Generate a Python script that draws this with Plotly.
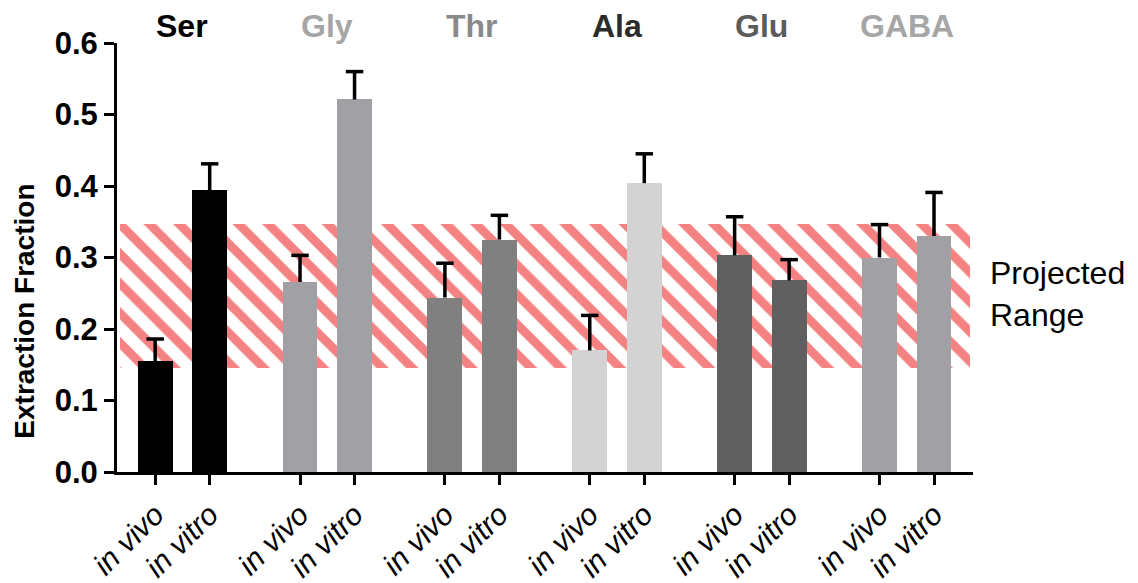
import plotly.graph_objects as go

# ---------------- data ----------------
amino_acids = ["Ser", "Gly", "Thr", "Ala", "Glu", "GABA"]
conditions = ["in vivo", "in vitro"]
in_vivo_values = [0.155, 0.266, 0.244, 0.170, 0.303, 0.300]
in_vivo_errors = [0.031, 0.037, 0.048, 0.049, 0.054, 0.046]
in_vitro_values = [0.394, 0.521, 0.325, 0.404, 0.268, 0.330]
in_vitro_errors = [0.037, 0.039, 0.034, 0.041, 0.029, 0.061]
projected_range = [0.145, 0.347]

# ---------------- styles ----------------
bar_colors = ["#000000", "#a1a0a5", "#808080", "#d3d3d3", "#606060", "#a1a0a5"]
label_colors = ["#000000", "#a6a6a6", "#8a8a8a", "#2b2b2b", "#5c5c5c", "#a6a6a6"]
hatch_color = "#f58282"
FONT = "Liberation Sans, Arial, sans-serif"
GROUP_STEP = 2.657
BAR_W = 0.64
CAP_HALF = 0.16
X_RANGE = [-0.7, 15.0]

xs, ys, errs, cols, tick_text = [], [], [], [], []
for g, aa in enumerate(amino_acids):
    for k, (vals, es) in enumerate([(in_vivo_values, in_vivo_errors),
                                    (in_vitro_values, in_vitro_errors)]):
        xs.append(g * GROUP_STEP + k)
        ys.append(vals[g])
        errs.append(es[g])
        cols.append(bar_colors[g])
        tick_text.append(conditions[k])

fig = go.Figure()

# hatched projected range band
band_x0, band_x1 = -0.645, 14.95
fig.add_trace(go.Bar(
    x=[(band_x0 + band_x1) / 2], y=[projected_range[1] - projected_range[0]],
    base=[projected_range[0]], width=[band_x1 - band_x0],
    marker=dict(color="white", line=dict(width=0),
                pattern=dict(shape="\\", fgcolor=hatch_color, bgcolor="white",
                             size=21, solidity=0.42, fillmode="replace")),
    hoverinfo="skip", showlegend=False))

fig.add_trace(go.Bar(
    x=xs, y=ys, width=BAR_W,
    marker=dict(color=cols, line=dict(width=0)),
    showlegend=False))

# upward-only error bars (stem + cap), built from the data values
ex, ey = [], []
for x, y, e in zip(xs, ys, errs):
    ex += [x, x, None, x - CAP_HALF, x + CAP_HALF, None]
    ey += [y, y + e, None, y + e, y + e, None]
fig.add_trace(go.Scatter(x=ex, y=ey, mode="lines",
                         line=dict(color="black", width=3.5),
                         hoverinfo="skip", showlegend=False))

# group labels
for g, aa in enumerate(amino_acids):
    fig.add_annotation(x=g * GROUP_STEP + 0.5, y=1.04, xref="x", yref="paper",
                       text=f"<b>{aa}</b>", showarrow=False, yanchor="middle",
                       font=dict(family=FONT, size=32, color=label_colors[g]))

fig.add_annotation(x=1.0175, y=0.416, xref="paper", yref="paper",
                   text="Projected<br>Range", showarrow=False, xanchor="left",
                   yanchor="middle", align="left",
                   font=dict(family=FONT, size=32, color="black"))

fig.add_annotation(x=-0.1075, y=0.376, xref="paper", yref="paper",
                   text="<b>Extraction Fraction</b>", showarrow=False, textangle=-90,
                   xanchor="center", yanchor="middle",
                   font=dict(family=FONT, size=28, color="black"))

fig.update_layout(
    width=1138, height=583,
    margin=dict(l=117, r=165, t=43, b=111),
    paper_bgcolor="white", plot_bgcolor="white",
    barmode="overlay", bargap=0,
    font=dict(family=FONT, color="black"),
    xaxis=dict(range=X_RANGE, tickmode="array", tickvals=xs, ticktext=tick_text,
               tickangle=-45, tickfont=dict(family=FONT, size=30, style="italic"),
               showline=True, linewidth=3, linecolor="black",
               ticks="outside", ticklen=10, tickwidth=3, tickcolor="black",
               showgrid=False, zeroline=False, automargin=False),
    yaxis=dict(range=[0, 0.6], tickmode="array",
               tickvals=[0, 0.1, 0.2, 0.3, 0.4, 0.5, 0.6],
               ticktext=["<b>0.0</b>", "<b>0.1</b>", "<b>0.2</b>", "<b>0.3</b>",
                         "<b>0.4</b>", "<b>0.5</b>", "<b>0.6</b>"],
               tickfont=dict(family=FONT, size=31),
               showline=True, linewidth=3, linecolor="black",
               ticks="outside", ticklen=10, tickwidth=3, tickcolor="black",
               showgrid=False, zeroline=False, automargin=False),
)

fig.write_html("out.html")
